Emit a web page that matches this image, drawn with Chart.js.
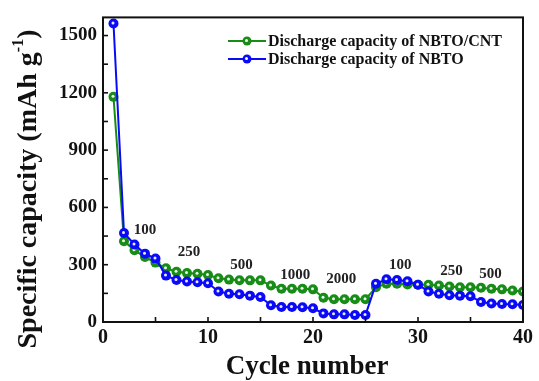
<!DOCTYPE html>
<html><head><meta charset="utf-8">
<script src="https://cdn.jsdelivr.net/npm/chart.js@4/dist/chart.umd.min.js"></script>
<style>html,body{margin:0;padding:0;background:#fff}#wrap{width:539px;height:381px}</style>
</head><body><div id="wrap"><canvas id="c" width="539" height="381"></canvas></div>
<script>
const cycles = [1,2,3,4,5,6,7,8,9,10,11,12,13,14,15,16,17,18,19,20,21,22,23,24,25,26,27,28,29,30,31,32,33,34,35,36,37,38,39,40];
const nbtoCnt = [1179,423,376,340,311,281,263,256,253,246,229,222,219,218,218,191,174,174,174,171,127,119,119,119,119,182,200,200,196,195,195,191,186,182,182,179,174,171,165,160];
const nbto = [1563,466,406,358,332,243,220,212,208,203,160,148,145,138,131,88,79,79,77,72,45,40,40,37,37,200,224,220,213,195,160,148,140,138,135,105,97,94,93,89];
const seriesNames = ['Discharge capacity of NBTO/CNT','Discharge capacity of NBTO'];
const rateLabels = ['100','250','500','1000','2000','100','250','500'];
const rateLabelX = [4.0,8.2,13.2,18.3,22.7,28.3,33.2,36.9];
const rateLabelY = [480,368,300,243,222,300,265,250];
const yTicks = [0,300,600,900,1200,1500];
const xTicks = [0,10,20,30,40];

const GREEN = '#178c17', BLUE = '#0a0af8';
const SERIF = '"Liberation Serif","Times New Roman",serif';

const decor = {
  id:'decor',
  afterDatasetDraw(chart, args){
    const ctx = chart.ctx;
    const meta = args.meta;
    ctx.save();
    ctx.fillStyle = 'rgba(255,255,255,0.92)';
    meta.data.forEach(p=>{ctx.beginPath();ctx.arc(p.x-0.5,p.y-0.5,1.5,0,Math.PI*2);ctx.fill();});
    ctx.restore();
  },
  afterDraw(chart){
    const ctx = chart.ctx, a = chart.chartArea, xs = chart.scales.x, ys = chart.scales.y;
    ctx.save();
    ctx.strokeStyle = '#111'; ctx.lineWidth = 2;
    ctx.strokeRect(a.left, a.top, a.right-a.left, a.bottom-a.top);
    ctx.lineWidth = 1.6;
    for(let v=0; v<=1500; v+=150){const y=ys.getPixelForValue(v);ctx.beginPath();ctx.moveTo(a.left,y);ctx.lineTo(a.left+5,y);ctx.stroke();}
    for(let v=5; v<40; v+=5){const x=xs.getPixelForValue(v);ctx.beginPath();ctx.moveTo(x,a.bottom);ctx.lineTo(x,a.bottom-5);ctx.stroke();}
    ctx.fillStyle = '#222'; ctx.font = 'bold 15px '+SERIF; ctx.textAlign='center'; ctx.textBaseline='middle';
    rateLabels.forEach((t,i)=>ctx.fillText(t, xs.getPixelForValue(rateLabelX[i]), ys.getPixelForValue(rateLabelY[i])));
    const ds = chart.data.datasets.slice().sort((p,q)=>seriesNames.indexOf(p.label)-seriesNames.indexOf(q.label));
    const lx = 228, ly = [41, 59];
    ctx.font = 'bold 16px '+SERIF; ctx.textAlign='left';
    ds.forEach((d,i)=>{
      ctx.strokeStyle = d.borderColor; ctx.lineWidth = 2;
      ctx.beginPath(); ctx.moveTo(lx, ly[i]); ctx.lineTo(lx+38, ly[i]); ctx.stroke();
      ctx.fillStyle = d.borderColor; ctx.beginPath(); ctx.arc(lx+19, ly[i], 4.5, 0, Math.PI*2); ctx.fill();
      ctx.fillStyle='#fff'; ctx.beginPath(); ctx.arc(lx+18.5, ly[i]-0.5, 1.5, 0, Math.PI*2); ctx.fill();
      ctx.fillStyle = '#111'; ctx.fillText(d.label, lx+40, ly[i]+1);
    });
    ctx.font = 'bold 27px '+SERIF; ctx.textAlign='center'; ctx.textBaseline='alphabetic'; ctx.fillStyle='#111';
    ctx.fillText('Cycle number', (a.left+a.right)/2-6, 374);
    ctx.translate(29, 189); ctx.rotate(-Math.PI/2);
    const f1 = 'bold 28px '+SERIF, f2 = 'bold 16px '+SERIF;
    const p1 = 'Specific capacity (mAh g', p2 = '-1', p3 = ')';
    ctx.font = f1; const w1 = ctx.measureText(p1).width, w3 = ctx.measureText(p3).width;
    ctx.font = f2; const w2 = ctx.measureText(p2).width;
    let x0 = -(w1+w2+w3)/2;
    ctx.textAlign='left'; ctx.textBaseline='middle';
    ctx.font = f1; ctx.fillText(p1, x0, 0);
    ctx.font = f2; ctx.fillText(p2, x0+w1, -10);
    ctx.font = f1; ctx.fillText(p3, x0+w1+w2, 0);
    ctx.restore();
  }
};

new Chart(document.getElementById('c'), {
  type:'line',
  data:{
    datasets:[
      {label:seriesNames[0], data:cycles.map((c,i)=>({x:c,y:nbtoCnt[i]})), borderColor:GREEN, backgroundColor:GREEN, pointBackgroundColor:GREEN, pointBorderColor:GREEN, borderWidth:2, pointRadius:5, pointBorderWidth:0, order:1, tension:0},
      {label:seriesNames[1], data:cycles.map((c,i)=>({x:c,y:nbto[i]})), borderColor:BLUE, backgroundColor:BLUE, pointBackgroundColor:BLUE, pointBorderColor:BLUE, borderWidth:2, pointRadius:5, pointBorderWidth:0, order:0, tension:0}
    ]
  },
  options:{
    responsive:false, animation:false, devicePixelRatio:1,
    layout:{padding:{top:14,right:16,left:0,bottom:0}},
    plugins:{legend:{display:false}, tooltip:{enabled:false}},
    scales:{
      x:{type:'linear', min:0, max:40,
        afterBuildTicks(s){s.ticks = xTicks.map(v=>({value:v}));},
        afterFit(s){s.height = 59;},
        grid:{display:false, drawTicks:false}, border:{display:false},
        ticks:{padding:4, color:'#111', font:{family:SERIF, size:20, weight:'bold'}, maxRotation:0, callback:v=>String(v)}},
      y:{type:'linear', min:0, max:1595,
        afterBuildTicks(s){s.ticks = yTicks.map(v=>({value:v}));},
        afterFit(s){s.width = 103;},
        grid:{display:false, drawTicks:false}, border:{display:false},
        ticks:{padding:6, color:'#111', font:{family:SERIF, size:19, weight:'bold'}, callback:v=>String(v)}}
    }
  },
  plugins:[decor]
});
</script></body></html>
